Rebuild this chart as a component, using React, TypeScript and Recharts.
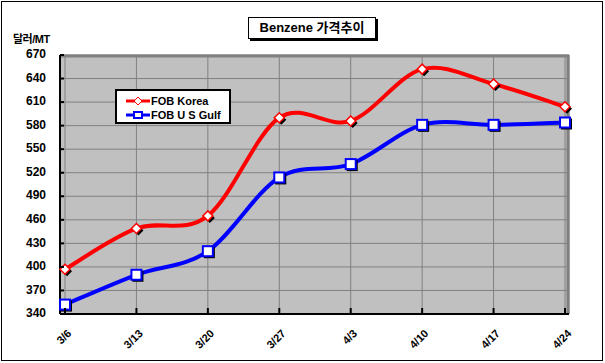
import React from "react";
import {
	LineChart,
	Line,
	XAxis,
	YAxis,
	CartesianGrid,
} from "recharts";

const dates = ["3/6", "3/13", "3/20", "3/27", "4/3", "4/10", "4/17", "4/24"];
const fobKorea = [397, 449, 465, 590, 586, 652, 633, 604];
const fobUsGulf = [352, 390, 420, 514, 531, 581, 581, 584];
const yTicks = [340, 370, 400, 430, 460, 490, 520, 550, 580, 610, 640, 670];

const chartData = dates.map((d, i) => ({
	date: d,
	korea: fobKorea[i],
	gulf: fobUsGulf[i],
}));

const FONT = "'Liberation Sans', Arial, sans-serif";
const KFONT = "'Liberation Sans', 'Noto Sans CJK KR', sans-serif";

// Excel-like smoothed line (uniform Catmull-Rom)
const excelSmooth = (context: any) => {
	let pts: number[][] = [];
	return {
		areaStart() {},
		areaEnd() {},
		lineStart() {
			pts = [];
		},
		point(x: number, y: number) {
			pts.push([+x, +y]);
		},
		lineEnd() {
			if (!pts.length) return;
			context.moveTo(pts[0][0], pts[0][1]);
			for (let i = 0; i < pts.length - 1; i++) {
				const p0 = pts[i - 1] || pts[i];
				const p1 = pts[i];
				const p2 = pts[i + 1];
				const p3 = pts[i + 2] || pts[i + 1];
				context.bezierCurveTo(
					p1[0] + (p2[0] - p0[0]) / 6,
					p1[1] + (p2[1] - p0[1]) / 6,
					p2[0] - (p3[0] - p1[0]) / 6,
					p2[1] - (p3[1] - p1[1]) / 6,
					p2[0],
					p2[1],
				);
			}
		},
	};
};

const DiamondDot = (props: any) => {
	const { cx, cy } = props;
	if (cx == null || cy == null) return null;
	const r = 5;
	const path = (dx: number, dy: number) =>
		`M${cx + dx},${cy + dy - r} L${cx + dx + r},${cy + dy} L${cx + dx},${cy + dy + r} L${cx + dx - r},${cy + dy} Z`;
	return (
		<g>
			<path d={path(2, 2)} fill="#000" />
			<path d={path(0, 0)} fill="#fff" stroke="#FF0000" strokeWidth={1.5} />
		</g>
	);
};

const SquareDot = (props: any) => {
	const { cx, cy } = props;
	if (cx == null || cy == null) return null;
	return (
		<g>
			<rect x={cx - 4} y={cy - 4} width={11} height={11} fill="#000" />
			<rect x={cx - 5} y={cy - 5} width={10} height={10} fill="#fff" stroke="#0000FF" strokeWidth={2} />
		</g>
	);
};

// category tick: inner tick mark and rotated label
const XTick = (props: any) => {
	const { x, y, payload } = props;
	const ax = x + 5;
	const ay = y + 10;
	return (
		<g>
			<line x1={x} y1={308} x2={x} y2={313} stroke="#000" strokeWidth={2} />
			<text
				x={ax}
				y={ay}
				transform={`rotate(-45 ${ax} ${ay})`}
				textAnchor="end"
				dominantBaseline="middle"
				fontFamily={FONT}
				fontSize={11}
				fontWeight="bold"
				fill="#000"
			>
				{payload.value}
			</text>
		</g>
	);
};

// value tick: inner tick mark and label
const YTick = (props: any) => {
	const { y, payload } = props;
	return (
		<g>
			<line x1={60} y1={y} x2={64} y2={y} stroke="#000" strokeWidth={2} />
			<text
				x={46}
				y={y}
				textAnchor="end"
				dominantBaseline="middle"
				fontFamily={FONT}
				fontSize={12}
				fontWeight="bold"
				fill="#000"
			>
				{payload.value}
			</text>
		</g>
	);
};

const legendItems = [
	{ label: "FOB Korea", color: "#FF0000", diamond: true },
	{ label: "FOB U S Gulf", color: "#0000FF", diamond: false },
];

const LegendBox = () => (
	<div
		style={{
			position: "absolute",
			left: 115,
			top: 89,
			width: 116,
			height: 35,
			background: "#fff",
			border: "2px solid #000",
			boxSizing: "border-box",
			padding: "3px 0 0 9px",
			fontFamily: FONT,
			fontSize: 11,
			fontWeight: "bold",
		}}
	>
		{legendItems.map((it) => (
			<div key={it.label} style={{ display: "flex", alignItems: "center", height: 14 }}>
				<svg width={24} height={12}>
					<line x1={0} y1={6} x2={24} y2={6} stroke={it.color} strokeWidth={3} />
					{it.diamond ? (
						<path d="M12,2 L16,6 L12,10 L8,6 Z" fill="#fff" stroke={it.color} strokeWidth={1} />
					) : (
						<rect x={8} y={3} width={8} height={6} fill="#fff" stroke={it.color} strokeWidth={2} />
					)}
				</svg>
				<span style={{ marginLeft: 1 }}>{it.label}</span>
			</div>
		))}
	</div>
);

export default function App() {
	return (
		<div
			style={{
				position: "absolute",
				left: 0,
				top: 0,
				width: 605,
				height: 363,
				background: "#fff",
			}}
		>
			<div
				style={{
					position: "absolute",
					left: 1,
					top: 1,
					width: 600,
					height: 358,
					border: "1px solid #000",
				}}
			/>
			<div
				style={{
					position: "absolute",
					left: 248,
					top: 17,
					width: 128,
					height: 22,
					border: "1px solid #000",
					boxShadow: "2px 2px 0 #000",
					background: "#fff",
					boxSizing: "border-box",
					textAlign: "center",
					fontFamily: KFONT,
					fontSize: 13,
					fontWeight: "bold",
					lineHeight: "20px",
				}}
			>
				Benzene 가격추이
			</div>
			<div
				style={{
					position: "absolute",
					left: 13,
					top: 30,
					fontFamily: KFONT,
					fontSize: 11,
					fontWeight: "bold",
					letterSpacing: -0.5,
				}}
			>
				달러/MT
			</div>
			<LineChart
				width={605}
				height={363}
				data={chartData}
				margin={{ top: 55, right: 36, bottom: 9, left: 10 }}
			>
				<CartesianGrid stroke="#808080" strokeWidth={1} fill="#C0C0C0" fillOpacity={1} />
				<XAxis
					dataKey="date"
					height={40}
					padding={{ left: 5, right: 4 }}
					tick={<XTick />}
					tickLine={false}
					axisLine={{ stroke: "#000", strokeWidth: 2 }}
					interval={0}
				/>
				<YAxis
					domain={[340, 670]}
					ticks={yTicks}
					width={50}
					interval={0}
					tick={<YTick />}
					tickLine={false}
					axisLine={{ stroke: "#000", strokeWidth: 2 }}
				/>
				<Line
					dataKey="korea"
					name="FOB Korea"
					type={excelSmooth as any}
					stroke="#FF0000"
					strokeWidth={4}
					dot={<DiamondDot />}
					isAnimationActive={false}
				/>
				<Line
					dataKey="gulf"
					name="FOB U S Gulf"
					type={excelSmooth as any}
					stroke="#0000FF"
					strokeWidth={4}
					dot={<SquareDot />}
					isAnimationActive={false}
				/>
				<line x1={60} y1={56} x2={569} y2={56} stroke="#808080" strokeWidth={3} />
				<line x1={568} y1={55} x2={568} y2={314} stroke="#808080" strokeWidth={3} />
			</LineChart>
			<LegendBox />
		</div>
	);
}
